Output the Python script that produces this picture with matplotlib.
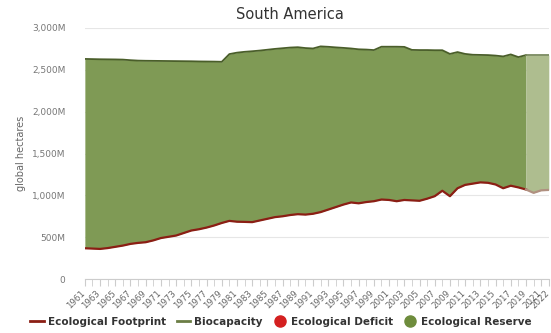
import numpy as np
import matplotlib.pyplot as plt
import matplotlib.transforms as mtransforms
from matplotlib.lines import Line2D

# Data (million global hectares)
years = list(range(1961, 2023))
footprint = [368, 364, 360, 370, 385, 400, 420, 432, 440, 462,
             490, 505, 520, 550, 580, 595, 615, 640, 670, 695,
             685, 683, 680, 700, 720, 740, 750, 765, 775, 770,
             780, 800, 830, 860, 890, 915, 905, 920, 930, 950,
             945, 930, 945, 940, 935, 960, 990, 1055, 990, 1085,
             1125, 1140, 1155, 1150, 1130, 1085, 1115, 1095, 1070, 1030,
             1060, 1065]
biocapacity = [2630, 2628, 2626, 2625, 2624, 2622, 2615, 2610, 2608, 2607,
               2606, 2605, 2604, 2603, 2602, 2600, 2599, 2598, 2596, 2688,
               2705, 2715, 2722, 2730, 2740, 2750, 2758, 2766, 2770, 2760,
               2755, 2780, 2775, 2768, 2762, 2755, 2745, 2742, 2736, 2776,
               2776, 2776, 2774, 2738, 2736, 2736, 2734, 2734, 2690, 2712,
               2690, 2680, 2678, 2676, 2670, 2660, 2684, 2652, 2676, 2676,
               2676, 2676]
forecast_start = 2019
tick_years = list(range(1961, 2022, 2)) + [2022]

yrs = np.array(years)
fp = np.array(footprint)
bc = np.array(biocapacity)

fig = plt.figure(figsize=(5.51, 3.33), dpi=100)
ax = fig.add_axes([0.154, 0.162, 0.842, 0.754])

green = '#7f9a55'
green_light = '#aebd8f'
past = yrs <= forecast_start
fut = yrs >= forecast_start
ax.fill_between(yrs[past], fp[past], bc[past], color=green, lw=0, zorder=2)
ax.fill_between(yrs[fut], fp[fut], bc[fut], color=green_light, lw=0, zorder=2)
ax.plot(yrs[past], bc[past], color='#4a5e2a', lw=1.3, zorder=3)
ax.plot(yrs[fut], bc[fut], color='#7a8a60', lw=1.3, zorder=3)
ax.plot(yrs[past], fp[past], color='#8b1e14', lw=1.6, zorder=4)
ax.plot(yrs[fut], fp[fut], color='#b09080', lw=1.6, zorder=4)

ax.set_xlim(1961, 2022)
ax.set_ylim(0, 3000)
ax.set_yticks([0, 500, 1000, 1500, 2000, 2500, 3000])
ax.set_yticklabels(['0', '500M', '1,000M', '1,500M', '2,000M', '2,500M', '3,000M'])
ax.grid(axis='y', color='#e6e6e6', lw=0.8, zorder=0)
ax.set_xticks(tick_years)
ax.set_xticklabels([str(y) for y in tick_years], rotation=45, ha='right',
                   rotation_mode='anchor')
ax.set_xticks(years, minor=True)
ax.tick_params(axis='x', which='both', length=5, color='#cccccc',
               labelsize=6.2, labelcolor='#666666', pad=2)
ax.tick_params(axis='y', length=0, labelsize=6.5, labelcolor='#777777', pad=14)
# nudge the rotated year labels a little left so 2022 stays inside
shift = mtransforms.ScaledTranslation(-3 / 72, 0, fig.dpi_scale_trans)
for lbl in ax.get_xticklabels():
    lbl.set_transform(lbl.get_transform() + shift)
for s in ['top', 'right', 'left']:
    ax.spines[s].set_visible(False)
ax.spines['bottom'].set_color('#cccccc')
ax.set_ylabel('global hectares', fontsize=7, color='#666666', labelpad=4)

fig.text(0.527, 0.955, 'South America', ha='center', va='center',
         fontsize=10.5, color='#333333')

handles = [
    Line2D([], [], color='#8b1e14', lw=2),
    Line2D([], [], color='#6b7d45', lw=2),
    Line2D([], [], marker='o', ls='', color='#d42020', markersize=8),
    Line2D([], [], marker='o', ls='', color='#6e8c3c', markersize=8),
]
labels = ['Ecological Footprint', 'Biocapacity', 'Ecological Deficit',
          'Ecological Reserve']
leg = fig.legend(handles, labels, loc='center', bbox_to_anchor=(0.51, 0.033),
                 ncol=4, frameon=False, prop={'size': 7.5, 'weight': 'bold'},
                 handlelength=1.3, handletextpad=0.4, columnspacing=1.0)
for t in leg.get_texts():
    t.set_color('#333333')

fig.savefig('out.png', dpi=100)
